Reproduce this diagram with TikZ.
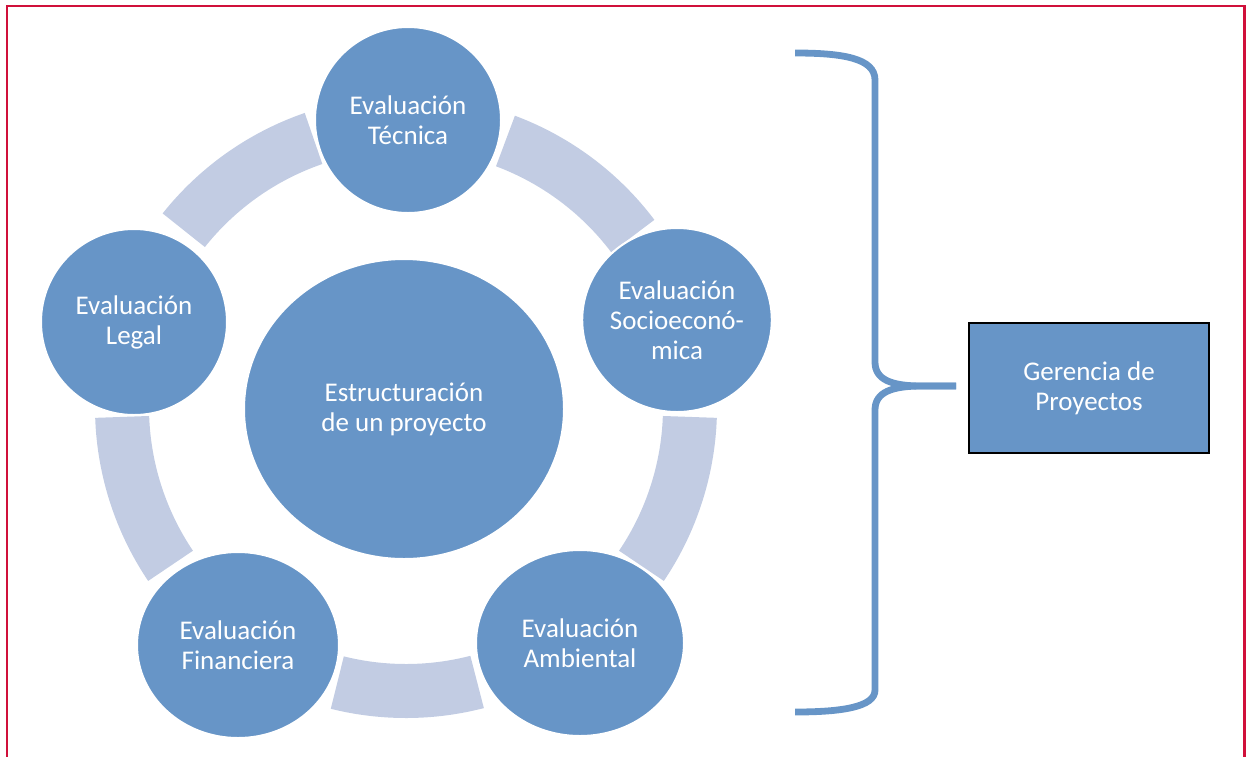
\documentclass[tikz,border=0pt]{standalone}
\usepackage{fontspec}
\setmainfont{Carlito}
\usetikzlibrary{shapes.geometric,calc}
\definecolor{circblue}{RGB}{103,149,199}
\definecolor{bandgray}{RGB}{194,204,227}
\definecolor{framered}{RGB}{208,16,58}
\begin{document}
\begin{tikzpicture}[x=0.5pt,y=-0.5pt,
  evalnode/.style={ellipse,fill=circblue,draw=white,line width=1pt,inner sep=0pt,
    text=white,align=center,font=\fontsize{13.5}{15}\selectfont},
  band/.style={fill=bandgray},
  brace/.style={draw=circblue,line width=3.4pt}]

\useasboundingbox (0,0) rectangle (1246,756);
\draw [framered,line width=1.3pt] (7,770) -- (7,6) -- (1244.5,6) -- (1244.5,770);

\coordinate (ring) at (406,407);
\foreach \a/\b in {109/141.5, 37/69.5, -34/-2, 256/284.5, 182/214}
  \fill [band] ($(ring)+(\a:155.5pt)$) arc [start angle=\a, end angle=\b, radius=155.5pt]
    -- ($(ring)+(\b:128.5pt)$) arc [start angle=\b, end angle=\a, radius=128.5pt] -- cycle;

\node [evalnode,minimum width=160pt,minimum height=150pt] (centro) at (404,409) {Estructuración\\de un proyecto};
\node [evalnode,minimum width=93pt,minimum height=93pt] (tecnica) at (408,120) {Evaluación\\Técnica};
\node [evalnode,minimum width=94pt,minimum height=92pt] (socio) at (677,320) {Evaluación\\Socioeconó-\\mica};
\node [evalnode,minimum width=104pt,minimum height=93pt] (ambiental) at (580,643) {Evaluación\\Ambiental};
\node [evalnode,minimum width=101pt,minimum height=93pt] (financiera) at (238,645) {Evaluación\\Financiera};
\node [evalnode,minimum width=93pt,minimum height=93pt] (legal) at (134,322) {Evaluación\\Legal};

\node [draw=black,line width=1pt,fill=circblue,minimum width=120pt,minimum height=65pt,
  text=white,align=center,font=\fontsize{13.5}{15}\selectfont] (gerencia) at (1089,388) {Gerencia de\\Proyectos};

\coordinate (bracetip) at ($(gerencia.west)+(-12,-2)$);
\draw [brace] (795,53) .. controls (842,53) and (875,58) .. (875,80) -- (875,362)
  .. controls (875,380) and (892,386) .. (922,386) -- (bracetip);
\draw [brace] (bracetip) -- (922,386) .. controls (892,386) and (875,392) .. (875,410)
  -- (875,690) .. controls (875,707) and (842,712) .. (795,712);

\end{tikzpicture}
\end{document}
